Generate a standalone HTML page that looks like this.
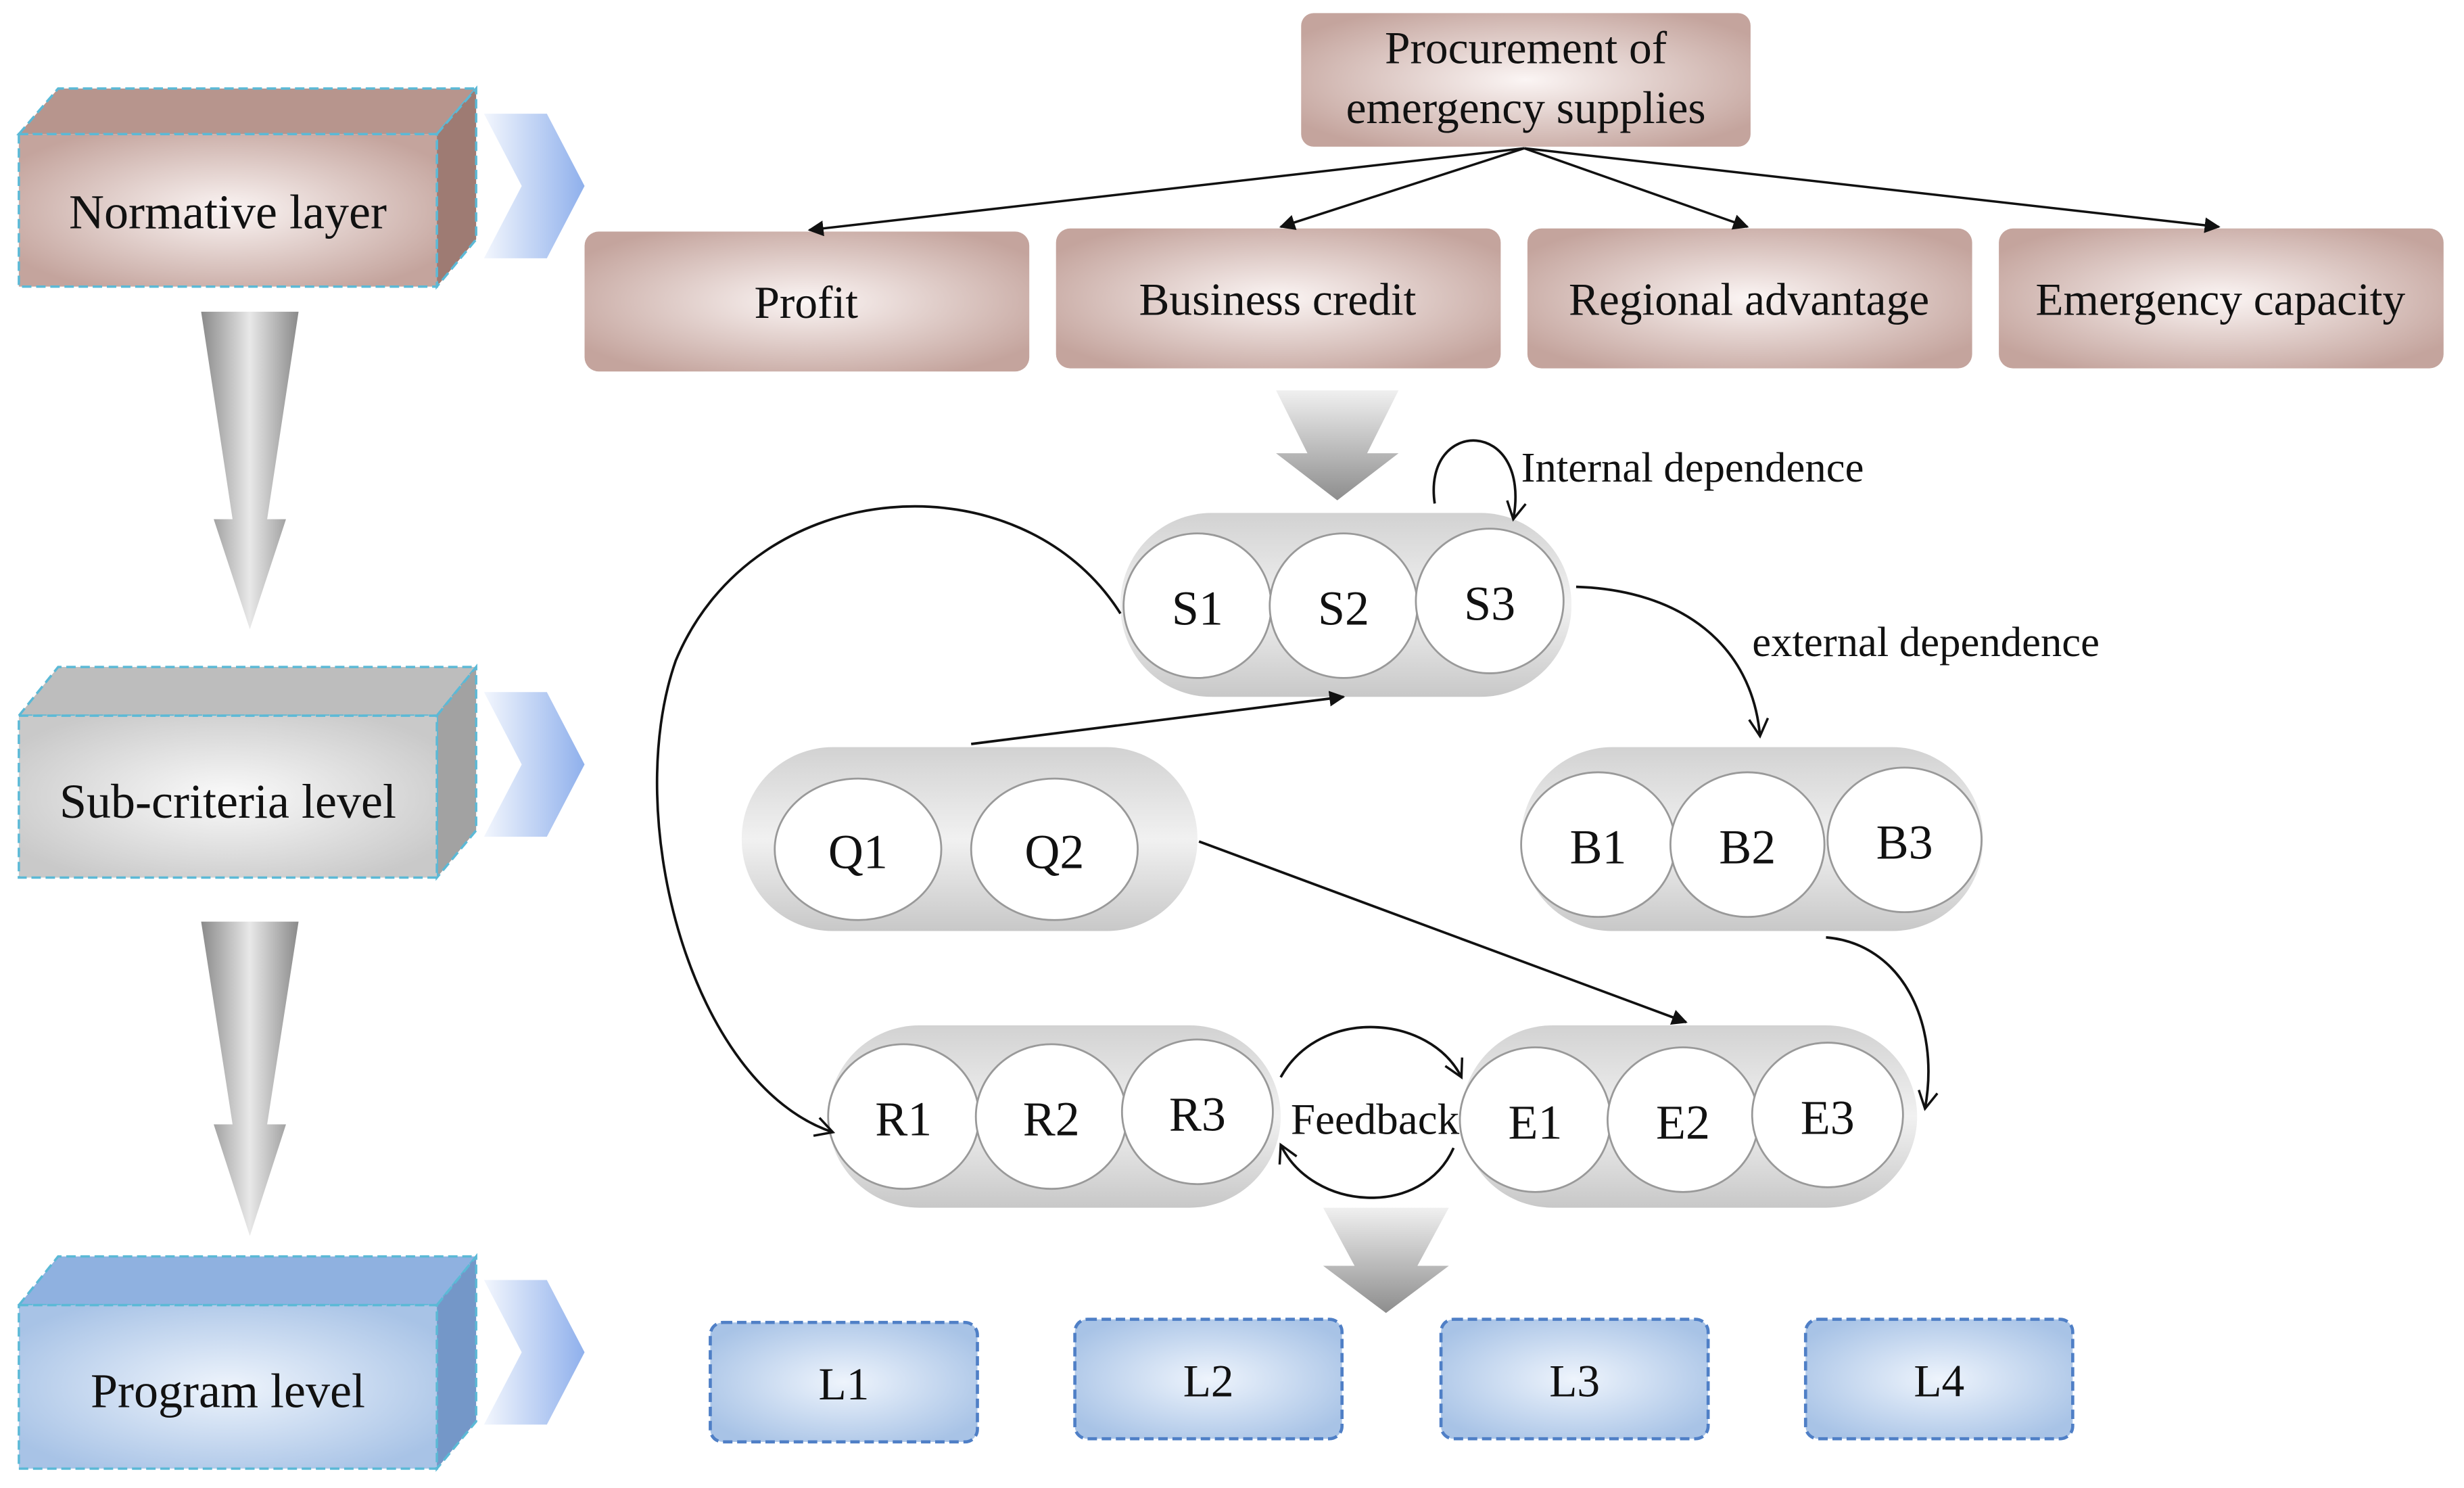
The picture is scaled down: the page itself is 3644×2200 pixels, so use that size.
<!DOCTYPE html>
<html><head><meta charset="utf-8"><style>
html,body{margin:0;padding:0;background:#fff;}
svg{display:block;}
text{font-family:"Liberation Serif",serif;fill:#111;}
</style></head><body>
<svg width="3644" height="2200" viewBox="0 0 1568 946" xmlns="http://www.w3.org/2000/svg">
<defs>
<radialGradient id="brown" cx="50%" cy="50%" r="60%"><stop offset="0" stop-color="#fbf5f4"/><stop offset="1" stop-color="#c4a49d"/></radialGradient>
<radialGradient id="grayg" cx="50%" cy="50%" r="60%"><stop offset="0" stop-color="#fafafa"/><stop offset="1" stop-color="#c9c9c9"/></radialGradient>
<radialGradient id="blueg" cx="50%" cy="50%" r="60%"><stop offset="0" stop-color="#eef4fc"/><stop offset="1" stop-color="#a8c3e6"/></radialGradient>
<linearGradient id="pill" x1="0" y1="0" x2="0" y2="1"><stop offset="0" stop-color="#d2d2d2"/><stop offset="0.5" stop-color="#f1f1f1"/><stop offset="1" stop-color="#c8c8c8"/></linearGradient>
<linearGradient id="darr" x1="0" y1="0" x2="1" y2="0"><stop offset="0" stop-color="#8a8a8a"/><stop offset="0.5" stop-color="#e8e8e8"/><stop offset="1" stop-color="#8a8a8a"/></linearGradient>
<linearGradient id="darr2" x1="0" y1="0" x2="0" y2="1"><stop offset="0" stop-color="#f0f0f0"/><stop offset="1" stop-color="#8d8d8d"/></linearGradient>
<linearGradient id="chev" x1="0" y1="0" x2="1" y2="0"><stop offset="0" stop-color="#f2f6fd"/><stop offset="1" stop-color="#8fb0ec"/></linearGradient>
<marker id="ah" markerWidth="10" markerHeight="10" refX="9" refY="5" orient="auto" markerUnits="userSpaceOnUse"><path d="M0,0 L10,5 L0,10 z" fill="#111"/></marker>
<marker id="oa" markerWidth="14" markerHeight="14" refX="12" refY="7" orient="auto" markerUnits="userSpaceOnUse"><path d="M1,1 L12,7 L1,13" fill="none" stroke="#111" stroke-width="1.5"/></marker>
</defs>

<!-- Left 3D boxes -->
<g stroke="#5bb9d6" stroke-width="1.5" stroke-dasharray="6,3">
<path d="M12,85 L37,56 L303,56 L278,85 z" fill="#b7958d"/>
<path d="M278,85 L303,56 L303,152 L278,182 z" fill="#9e7b73"/>
<rect x="12" y="85" width="266" height="97" fill="url(#brown)"/>
<path d="M12,455 L37,424 L303,424 L278,455 z" fill="#bdbdbd"/>
<path d="M278,455 L303,424 L303,528 L278,558 z" fill="#a2a2a2"/>
<rect x="12" y="455" width="266" height="103" fill="url(#grayg)"/>
<path d="M12,830 L37,799 L303,799 L278,830 z" fill="#8fb1e0"/>
<path d="M278,830 L303,799 L303,904 L278,934 z" fill="#7497c8"/>
<rect x="12" y="830" width="266" height="104" fill="url(#blueg)"/>
</g>
<text x="145" y="145" font-size="31" text-anchor="middle">Normative layer</text>
<text x="145" y="520" font-size="31" text-anchor="middle">Sub-criteria level</text>
<text x="145" y="895" font-size="31" text-anchor="middle">Program  level</text>

<!-- chevrons -->
<g fill="url(#chev)">
<path d="M308,72 L348,72 L372,118 L348,164 L308,164 L332,118 z"/>
<path d="M308,440 L348,440 L372,486 L348,532 L308,532 L332,486 z"/>
<path d="M308,814 L348,814 L372,860 L348,906 L308,906 L332,860 z"/>
</g>

<!-- gray down arrows -->
<path d="M128,198 L190,198 L170,330 L182,330 L159,400 L136,330 L148,330 z" fill="url(#darr)"/>
<path d="M128,586 L190,586 L170,715 L182,715 L159,786 L136,715 L148,715 z" fill="url(#darr)"/>
<path d="M812,248 L890,248 L870,288 L890,288 L851,318 L812,288 L832,288 z" fill="url(#darr2)"/>
<path d="M842,768 L922,768 L902,805 L922,805 L882,835 L842,805 L862,805 z" fill="url(#darr2)"/>

<!-- top boxes -->
<rect x="828" y="8" width="286" height="85" rx="8" fill="url(#brown)"/>
<text x="971" y="40" font-size="29" text-anchor="middle">Procurement of</text>
<text x="971" y="78" font-size="29" text-anchor="middle">emergency supplies</text>
<g fill="url(#brown)">
<rect x="372" y="147" width="283" height="89" rx="9"/>
<rect x="672" y="145" width="283" height="89" rx="9"/>
<rect x="972" y="145" width="283" height="89" rx="9"/>
<rect x="1272" y="145" width="283" height="89" rx="9"/>
</g>
<g font-size="29" text-anchor="middle">
<text x="513" y="202">Profit</text>
<text x="813" y="200">Business credit</text>
<text x="1113" y="200">Regional advantage</text>
<text x="1413" y="200">Emergency capacity</text>
</g>
<g stroke="#111" stroke-width="1.5" marker-end="url(#ah)">
<line x1="970" y1="94" x2="515" y2="146"/>
<line x1="970" y1="94" x2="815" y2="144"/>
<line x1="970" y1="94" x2="1112" y2="144"/>
<line x1="970" y1="94" x2="1412" y2="144"/>
</g>

<!-- pills -->
<g fill="url(#pill)">
<rect x="713" y="326" width="287" height="117" rx="58"/>
<rect x="472" y="475" width="290" height="117" rx="58"/>
<rect x="968" y="475" width="294" height="117" rx="58"/>
<rect x="527" y="652" width="288" height="116" rx="58"/>
<rect x="930" y="652" width="290" height="116" rx="58"/>
</g>
<g fill="#fff" stroke="#999" stroke-width="1.2">
<ellipse cx="762" cy="385" rx="47" ry="46"/><ellipse cx="855" cy="385" rx="47" ry="46"/><ellipse cx="948" cy="382" rx="47" ry="46"/>
<ellipse cx="546" cy="540" rx="53" ry="45"/><ellipse cx="671" cy="540" rx="53" ry="45"/>
<ellipse cx="1017" cy="537" rx="49" ry="46"/><ellipse cx="1112" cy="537" rx="49" ry="46"/><ellipse cx="1212" cy="534" rx="49" ry="46"/>
<ellipse cx="575" cy="710" rx="48" ry="46"/><ellipse cx="669" cy="710" rx="48" ry="46"/><ellipse cx="762" cy="707" rx="48" ry="46"/>
<ellipse cx="977" cy="712" rx="48" ry="46"/><ellipse cx="1071" cy="712" rx="48" ry="46"/><ellipse cx="1163" cy="709" rx="48" ry="46"/>
</g>
<g font-size="31" text-anchor="middle">
<text x="762" y="397">S1</text><text x="855" y="397">S2</text><text x="948" y="394">S3</text>
<text x="546" y="552">Q1</text><text x="671" y="552">Q2</text>
<text x="1017" y="549">B1</text><text x="1112" y="549">B2</text><text x="1212" y="546">B3</text>
<text x="575" y="722">R1</text><text x="669" y="722">R2</text><text x="762" y="719">R3</text>
<text x="977" y="724">E1</text><text x="1071" y="724">E2</text><text x="1163" y="721">E3</text>
</g>
<text x="875" y="721" font-size="28" text-anchor="middle">Feedback</text>
<text x="968" y="306" font-size="27">Internal dependence</text>
<text x="1115" y="417" font-size="27">external dependence</text>

<!-- connectors -->
<g fill="none" stroke="#111" stroke-width="1.6">
<path d="M913,320 C905,265 975,265 963,330" marker-end="url(#oa)"/>
<path d="M1003,373 C1070,375 1115,410 1120,468" marker-end="url(#oa)"/>
<path d="M713,390 C650,290 480,300 430,420 C395,520 440,690 530,720" marker-end="url(#oa)"/>
<path d="M618,473 L855,443" marker-end="url(#ah)"/>
<path d="M763,535 L1073,650" marker-end="url(#ah)"/>
<path d="M1162,596 C1210,600 1235,650 1225,705" marker-end="url(#oa)"/>
<path d="M815,685 C840,640 910,645 930,685" marker-end="url(#oa)"/>
<path d="M925,730 C905,775 835,770 815,728" marker-end="url(#oa)"/>
</g>

<!-- L boxes -->
<g fill="url(#blueg)" stroke="#4f7fc6" stroke-width="2" stroke-dasharray="6,3">
<rect x="452" y="841" width="170" height="76" rx="8"/>
<rect x="684" y="839" width="170" height="76" rx="8"/>
<rect x="917" y="839" width="170" height="76" rx="8"/>
<rect x="1149" y="839" width="170" height="76" rx="8"/>
</g>
<g font-size="29" text-anchor="middle">
<text x="537" y="890">L1</text><text x="769" y="888">L2</text><text x="1002" y="888">L3</text><text x="1234" y="888">L4</text>
</g>
</svg>
</body></html>
